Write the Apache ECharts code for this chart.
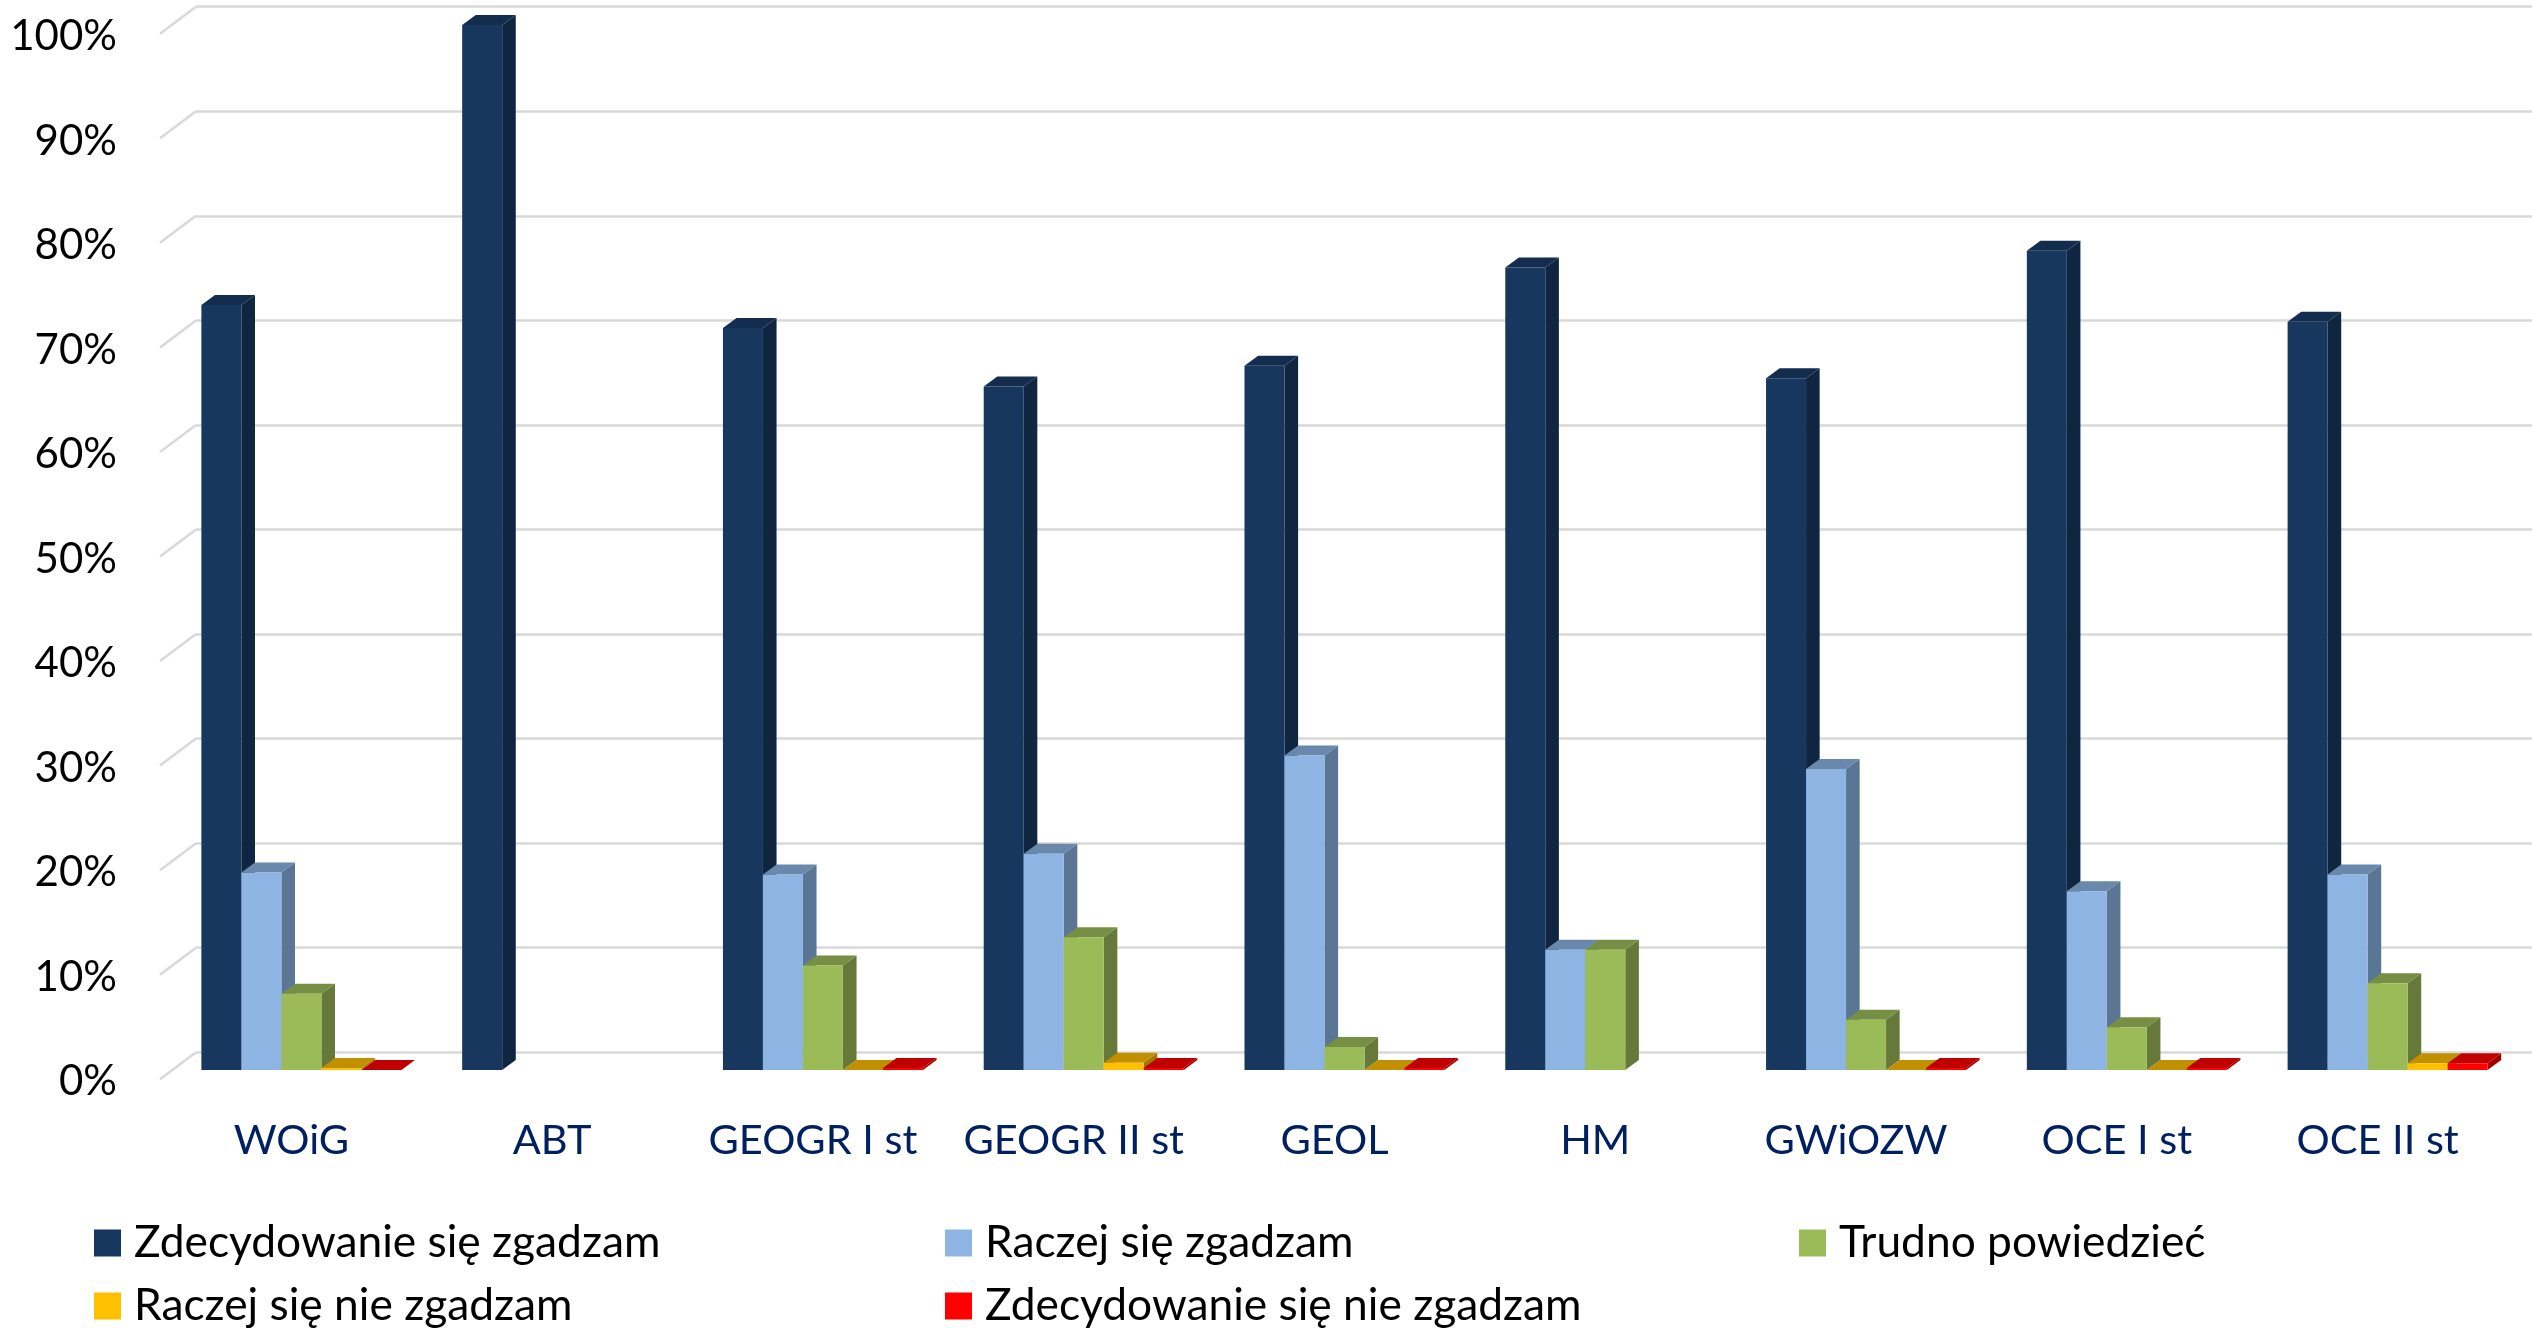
<!DOCTYPE html>
<html><head><meta charset="utf-8">
<style>html,body{margin:0;padding:0;background:#fff}#c{width:2532px;height:1328px}</style>
<script src="https://cdn.jsdelivr.net/npm/echarts@6/dist/echarts.min.js"></script>
</head><body><div id="c"></div>
<script>
const categories = ['WOiG','ABT','GEOGR I st','GEOGR II st','GEOL','HM','GWiOZW','OCE I st','OCE II st'];
const seriesNames = ['Zdecydowanie się zgadzam','Raczej się zgadzam','Trudno powiedzieć','Raczej się nie zgadzam','Zdecydowanie się nie zgadzam'];
const zdecydowanieTak = [73.2,100,71,65.4,67.4,76.8,66.2,78.4,71.6];
const raczejTak = [18.9,null,18.7,20.7,30.1,11.5,28.8,17.1,18.7];
const trudno = [7.3,null,10,12.7,2.2,11.5,4.8,4.1,8.3];
const raczejNie = [0.2,null,0,0.7,0,null,0,0,0.65];
const zdecydowanieNie = [0,null,0.2,0.2,0.2,null,0.2,0.2,0.65];
const yTicks = [0,10,20,30,40,50,60,70,80,90,100];
const faceColors = ['#17375e','#8db4e2','#9bbb59','#ffc000','#ff0000'];
const sideColors = ['#10253f','#5b7595','#66783a','#a07800','#a00000'];
const topColors = ['#142d4e','#6a88ac','#778f45','#c09000','#c00000'];
const allValues = [zdecydowanieTak,raczejTak,trudno,raczejNie,zdecydowanieNie];

const DX = 13.6, DY = 10, BAR_W = 40, GROUP_SHIFT = 10;
const barSeries = allValues.map((vals,s)=>({
  type:'custom', name:seriesNames[s], xAxisIndex:0, yAxisIndex:0, coordinateSystem:'cartesian2d',
  itemStyle:{color:faceColors[s]},
  data:vals.map((v,i)=>[i,v]).filter(d=>d[1]!==null),
  encode:{x:0,y:1}, z:5+s,
  renderItem(params,api){
    const p=api.coord([api.value(0),api.value(1)]), b=api.coord([api.value(0),0]);
    const x=p[0]+GROUP_SHIFT-BAR_W*2.5+s*BAR_W, y=p[1], y0=b[1], w=BAR_W;
    return {type:'group',children:[
      {type:'polygon',shape:{points:[[x+w,y],[x+w+DX,y-DY],[x+w+DX,y0-DY],[x+w,y0]]},style:{fill:sideColors[s]}},
      {type:'polygon',shape:{points:[[x,y],[x+DX,y-DY],[x+w+DX,y-DY],[x+w,y]]},style:{fill:topColors[s]}},
      {type:'rect',shape:{x:x,y:y,width:w,height:y0-y},style:{fill:faceColors[s]}}
    ]};
  }
}));
const slantSeries = {
  type:'custom', xAxisIndex:1, yAxisIndex:1, coordinateSystem:'cartesian2d', z:1, silent:true,
  data:yTicks.map(v=>[0,v]), encode:{x:0,y:1},
  renderItem(params,api){
    const p=api.coord([0,api.value(1)]);
    return {type:'line',shape:{x1:p[0],y1:p[1],x2:p[0]-36,y2:p[1]+27},style:{stroke:'#d9d9d9',lineWidth:2.5}};
  }
};
const legendPos = [[94,1221],[945,1221],[1799,1221],[94,1284],[945,1284]];
const font = 'Lato';
const chart = echarts.init(document.getElementById('c'),null,{renderer:'canvas'});
chart.setOption({
  animation:false, backgroundColor:'#fff',
  grid:[
    {left:161,right:24,top:25,bottom:258},
    {left:196,right:0,top:6.7,bottom:275.7},
    {left:161,right:24,top:36.5,bottom:246.5}
  ],
  xAxis:[
    {type:'category',gridIndex:0,data:categories,axisLine:{show:false},axisTick:{show:false},
     axisLabel:{color:'#002060',fontFamily:font,fontSize:41.5,margin:50,interval:0}},
    {type:'value',gridIndex:1,min:0,max:1,show:false},
    {type:'value',gridIndex:2,min:0,max:1,show:false}
  ],
  yAxis:[
    {type:'value',gridIndex:0,min:0,max:100,interval:10,show:false},
    {type:'value',gridIndex:1,min:0,max:100,interval:10,axisLabel:{show:false},axisLine:{show:false},axisTick:{show:false},
     splitLine:{show:true,lineStyle:{color:'#d9d9d9',width:2.5}}},
    {type:'value',gridIndex:2,min:0,max:100,interval:10,axisLine:{show:false},axisTick:{show:false},splitLine:{show:false},
     axisLabel:{color:'#000',fontFamily:font,fontSize:42,margin:44,formatter:'{value}%'}}
  ],
  legend:seriesNames.map((n,i)=>({
    data:[n],left:legendPos[i][0],top:legendPos[i][1],orient:'horizontal',padding:0,
    icon:'rect',itemWidth:27,itemHeight:27,itemGap:0,selectedMode:false,
    textStyle:{color:'#000',fontFamily:font,fontSize:44.3,padding:[0,0,0,8]}
  })),
  series:[slantSeries,...barSeries,
    {type:'custom',xAxisIndex:2,yAxisIndex:2,data:[],renderItem(){return null}}]
});
</script></body></html>
